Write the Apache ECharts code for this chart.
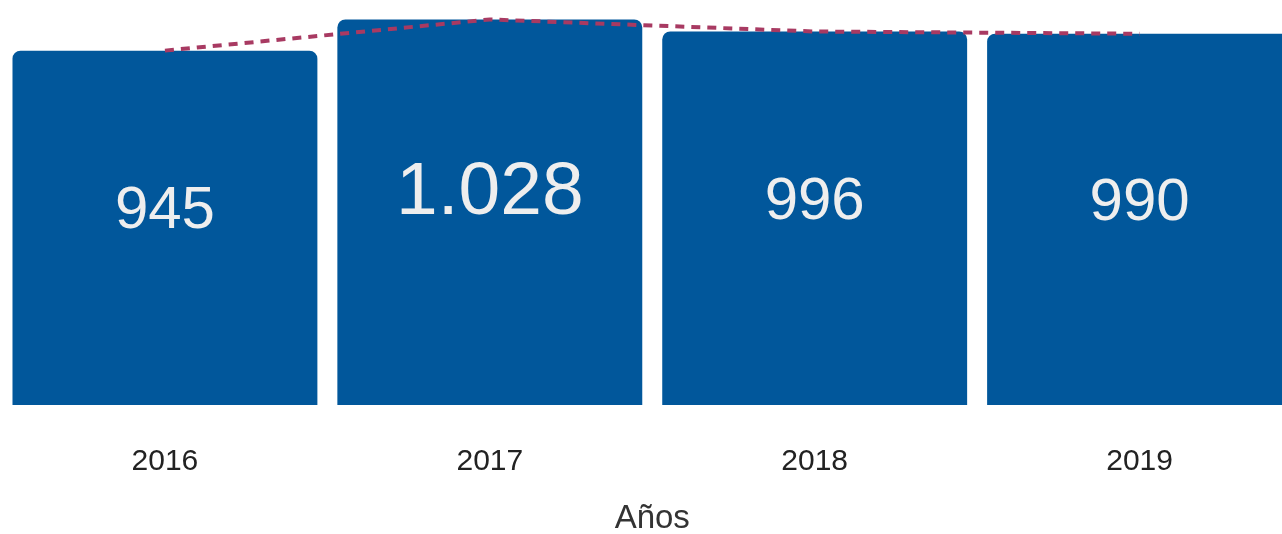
<!DOCTYPE html>
<html>
<head>
<meta charset="utf-8">
<script src="https://cdn.jsdelivr.net/npm/echarts@6/dist/echarts.min.js"></script>
<style>
html,body{margin:0;padding:0;background:#fff;}
#chart{width:1282px;height:534px;}
</style>
</head>
<body>
<div id="chart"></div>
<script>
const categories = ['2016', '2017', '2018', '2019'];
const values = [945, 1028, 996, 990];
const axisTitle = 'Años';

function fmt(v) {
  return String(v).replace(/\B(?=(\d{3})+(?!\d))/g, '.');
}
const maxVal = Math.max.apply(null, values);
const FONT = '"Liberation Sans", Arial, sans-serif';

const barData = values.map(function (v) {
  const big = v === maxVal;
  return {
    value: v,
    label: {
      fontSize: big ? 75 : 60,
      offset: [0, big ? -19 : -16]
    }
  };
});

const chart = echarts.init(document.getElementById('chart'), null, {renderer: 'canvas'});
chart.setOption({
  animation: false,
  grid: {left: 2.5, right: -20, top: 0, bottom: 129, outerBoundsMode: 'none', containLabel: false},
  xAxis: {
    type: 'category',
    data: categories,
    axisLine: {show: false},
    axisTick: {show: false},
    axisLabel: {color: '#222', fontSize: 30, fontFamily: FONT, margin: 42},
    name: axisTitle,
    nameLocation: 'middle',
    nameGap: 97,
    nameTextStyle: {color: '#333', fontSize: 33, fontFamily: FONT}
  },
  yAxis: {
    type: 'value',
    min: 0,
    max: 1080,
    show: false,
    splitLine: {show: false}
  },
  series: [
    {
      type: 'bar',
      data: barData,
      barCategoryGap: '6.15%',
      itemStyle: {color: '#01579B', borderRadius: [8, 8, 0, 0]},
      label: {
        show: true,
        position: 'inside',
        color: '#eeeeee',
        fontFamily: FONT,
        formatter: function (p) { return fmt(p.value); }
      }
    },
    {
      type: 'line',
      data: values,
      symbol: 'none',
      z: 5,
      lineStyle: {color: '#A83A62', width: 4, type: [9, 7]}
    }
  ]
});
</script>
</body>
</html>
